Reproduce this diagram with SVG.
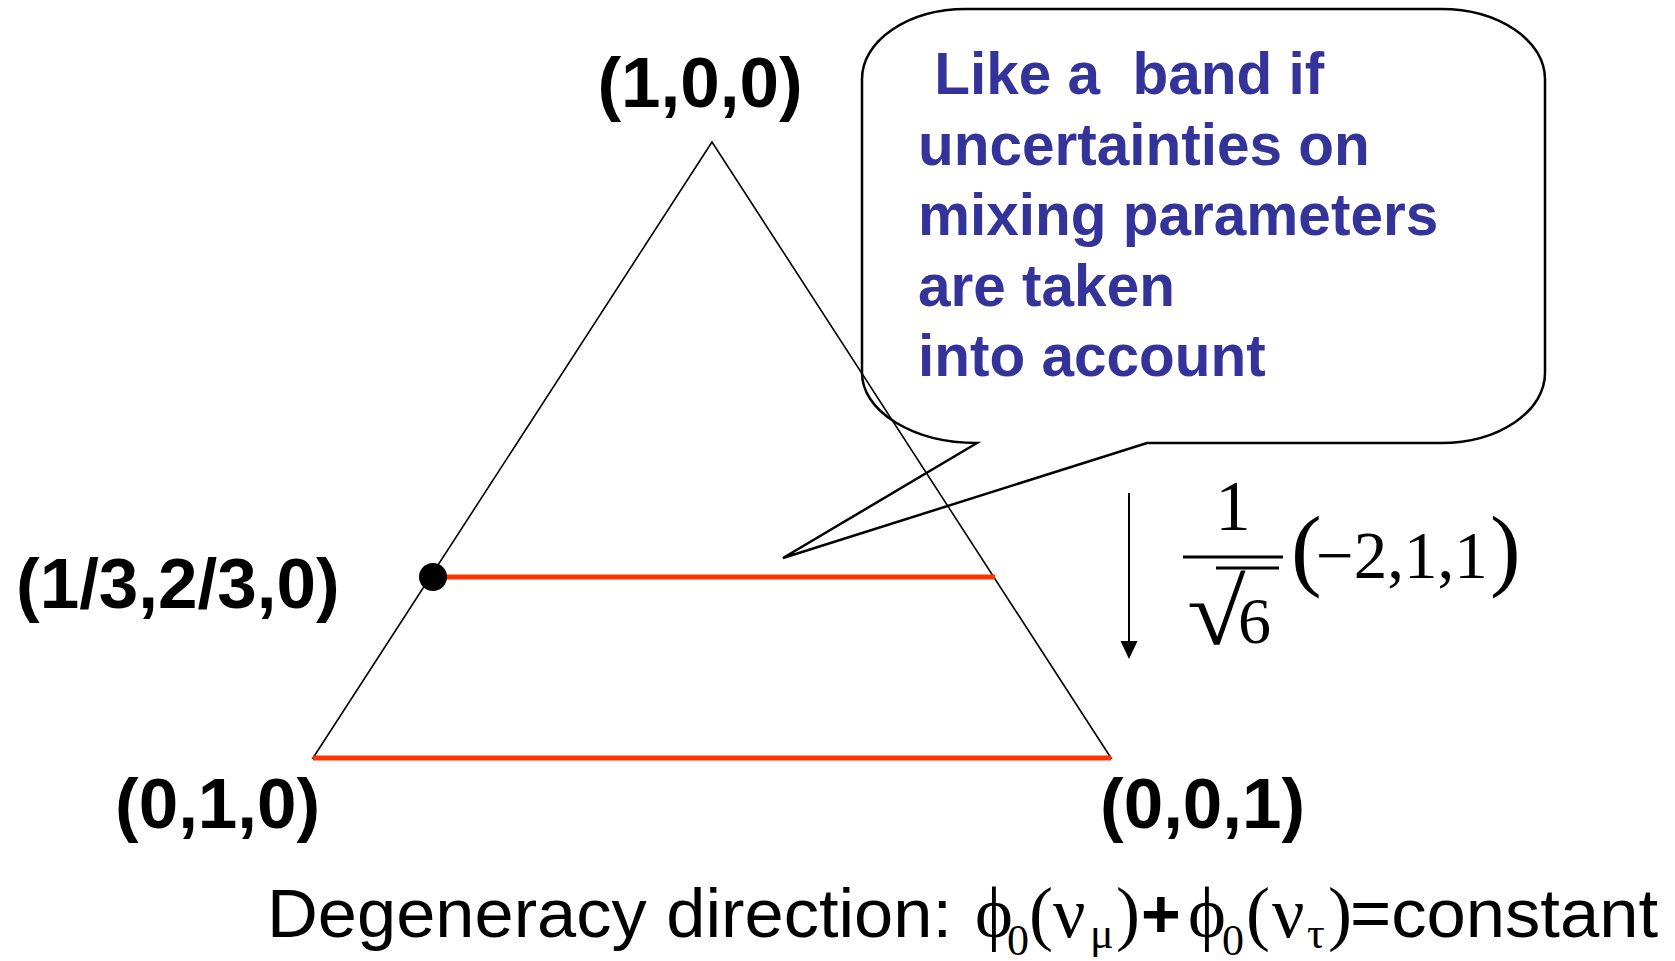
<svg xmlns="http://www.w3.org/2000/svg" width="1675" height="961" viewBox="0 0 1675 961">
<style>
.lbl{font-family:"Liberation Sans",Arial,sans-serif;font-weight:bold;font-size:71px;fill:#000}
.call{font-family:"Liberation Sans",Arial,sans-serif;font-weight:bold;font-size:58.5px;fill:#333399}
.sans{font-family:"Liberation Sans",Arial,sans-serif;font-size:68px;fill:#000}
.ser{font-family:"Liberation Serif","Times New Roman",serif;fill:#000}
.thin{stroke:#000;stroke-width:1.6;fill:none}
.red{stroke:#ff3300;stroke-width:5;fill:none}
</style>
<rect width="1675" height="961" fill="#fff"/>
<g id="triangle">
<polygon class="thin" points="712,142 313,758 1111,758"/>
</g>
<g id="connectors">
<line class="red" x1="433" y1="577" x2="995" y2="577"/>
<line class="red" x1="313" y1="758" x2="1111" y2="758"/>
<line x1="1129" y1="493" x2="1129" y2="645" stroke="#000" stroke-width="2"/>
<polygon points="1120.5,641 1137.5,641 1129,659" fill="#000"/>
</g>
<g id="point">
<circle cx="433" cy="577" r="14" fill="#000"/>
</g>
<g id="callout">
<path d="M977,443 L783,558 L1147,443 L1441,443 A104,70 0 0 0 1545,373 L1545,79 A104,70 0 0 0 1441,9 L966,9 A104,70 0 0 0 862,79 L862,373 A115,70 0 0 0 977,443 Z" fill="none" stroke="#000" stroke-width="2.5" stroke-linejoin="miter"/>
<text class="call" x="918" y="94" xml:space="preserve" style="white-space:pre"> Like a  band if</text>
<text class="call" x="918" y="165">uncertainties on</text>
<text class="call" x="918" y="235">mixing parameters</text>
<text class="call" x="918" y="306">are taken</text>
<text class="call" x="918" y="376">into account</text>
</g>
<g id="label-100"><text class="lbl" x="700" y="107" text-anchor="middle">(1,0,0)</text></g>
<g id="label-13230"><text class="lbl" x="16" y="608">(1/3,2/3,0)</text></g>
<g id="label-010"><text class="lbl" x="115" y="828">(0,1,0)</text></g>
<g id="label-001"><text class="lbl" x="1100" y="828">(0,0,1)</text></g>
<g id="vector">
<text class="ser" x="1233" y="530" font-size="71" text-anchor="middle">1</text>
<line x1="1183" y1="557" x2="1283" y2="557" stroke="#000" stroke-width="3"/>
<text class="ser" font-size="93" transform="translate(1187,644) scale(1.15,1)">√</text>
<line x1="1216" y1="568" x2="1279" y2="568" stroke="#000" stroke-width="3"/>
<text class="ser" x="1238" y="643" font-size="66">6</text>
<text class="ser" x="1291" y="579" font-size="92">(</text>
<text class="ser" x="1316" y="578" font-size="67">−2,1,1</text>
<text class="ser" x="1490" y="579" font-size="92">)</text>
</g>
<g id="caption">
<text class="sans" x="267" y="937" textLength="685" lengthAdjust="spacingAndGlyphs">Degeneracy direction:</text>
<text class="ser" font-size="72" y="937"><tspan x="975">ϕ</tspan><tspan x="1007" y="955" font-size="44">0</tspan><tspan x="1029" y="937">(</tspan><tspan x="1053">ν</tspan><tspan x="1090" y="948" font-size="44">μ</tspan><tspan x="1116" y="937">)</tspan></text>
<text class="sans" x="1141" y="937" font-weight="bold">+</text>
<text class="ser" font-size="72" y="937"><tspan x="1188">ϕ</tspan><tspan x="1222" y="955" font-size="44">0</tspan><tspan x="1246" y="937">(</tspan><tspan x="1272">ν</tspan><tspan x="1307" y="948" font-size="44">τ</tspan><tspan x="1328" y="937">)</tspan></text>
<text class="sans" x="1350" y="937" textLength="308" lengthAdjust="spacingAndGlyphs">=constant</text>
</g>
</svg>
